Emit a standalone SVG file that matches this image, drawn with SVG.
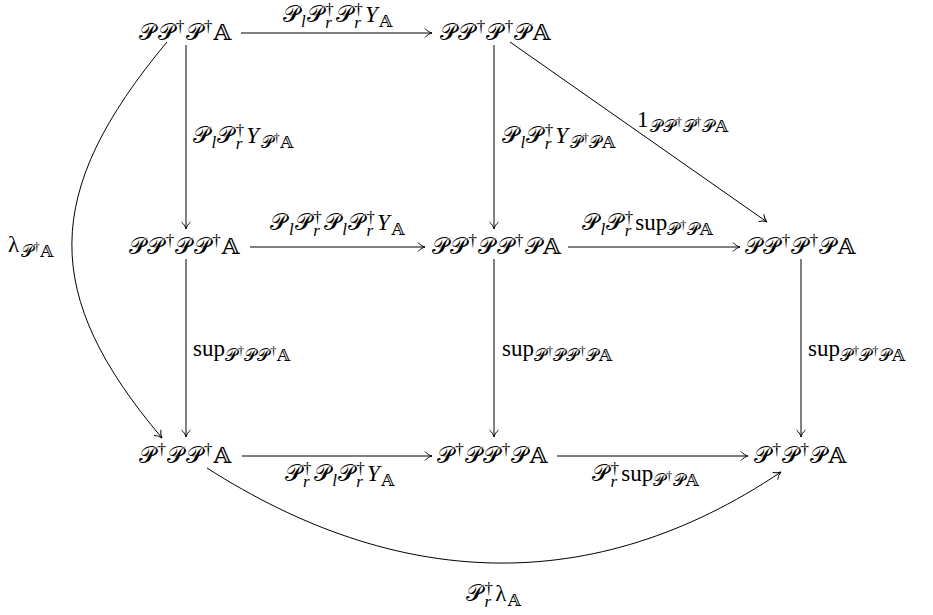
<svg xmlns="http://www.w3.org/2000/svg" width="933" height="615" viewBox="0 0 933 615">
<style>
text { font-family: "Liberation Serif", "DejaVu Serif", "DejaVu Sans", serif; font-size: 23px; fill: #000; letter-spacing: 1.5px; }
.s { font-size: 17px; letter-spacing: 1px; }
.ss { font-size: 12px; letter-spacing: 0.5px; }
.r { letter-spacing: 0; }
.i { font-style: italic; }
.e { fill: none; stroke: #000; stroke-width: 1; marker-end: url(#ah); }
</style>
<defs>
<marker id="ah" markerUnits="userSpaceOnUse" viewBox="-9 -6 10 12" refX="0" refY="0" markerWidth="10" markerHeight="12" orient="auto">
<path d="M-7,-4.5 C-5,-2 -2,-0.5 0,0 C-2,0.5 -5,2 -7,4.5" fill="none" stroke="#000" stroke-width="1"/>
</marker>
</defs>
<rect width="933" height="615" fill="#fff"/>
<g id="edges">
<path class="e" d="M241,33 H432"/>
<path class="e" d="M186,45 V229"/>
<path class="e" d="M494,45 V229"/>
<path class="e" d="M510,42 L767,222"/>
<path class="e" d="M250,247 H425"/>
<path class="e" d="M568,247 H740"/>
<path class="e" d="M186,259 V437"/>
<path class="e" d="M494,259 V437"/>
<path class="e" d="M801,259 V437"/>
<path class="e" d="M242,456 H432"/>
<path class="e" d="M557,456 H748"/>
<path class="e" d="M167,42 C41,193 41,295 162,438"/>
<path class="e" d="M207,468 C396,589 592,599 781,472"/>
</g>
<g id="labels">
<text x="338" y="22" text-anchor="middle">𝒫<tspan class="s i" dy="5">l</tspan><tspan dy="-5">𝒫</tspan><tspan class="s r" dy="-7">†</tspan><tspan class="s i" dx="-8.5" dy="13">r</tspan><tspan dy="-6" dx="3">𝒫</tspan><tspan class="s r" dy="-7">†</tspan><tspan class="s i" dx="-8.5" dy="13">r</tspan><tspan class="i" dy="-6" dx="3">Y</tspan><tspan class="s" dy="5">𝔸</tspan></text>
<text x="193" y="143">𝒫<tspan class="s i" dy="5">l</tspan><tspan dy="-5">𝒫</tspan><tspan class="s r" dy="-7">†</tspan><tspan class="s i" dx="-8.5" dy="13">r</tspan><tspan class="i" dy="-6" dx="3">Y</tspan><tspan class="s" dy="5">𝒫</tspan><tspan class="ss" dy="-6">†</tspan><tspan class="s" dy="6">𝔸</tspan></text>
<text x="502" y="143">𝒫<tspan class="s i" dy="5">l</tspan><tspan dy="-5">𝒫</tspan><tspan class="s r" dy="-7">†</tspan><tspan class="s i" dx="-8.5" dy="13">r</tspan><tspan class="i" dy="-6" dx="3">Y</tspan><tspan class="s" dy="5">𝒫</tspan><tspan class="ss" dy="-6">†</tspan><tspan class="s" dy="6">𝒫𝔸</tspan></text>
<text x="637" y="127">1<tspan class="s" dy="5">𝒫𝒫</tspan><tspan class="ss" dy="-6">†</tspan><tspan class="s" dy="6">𝒫</tspan><tspan class="ss" dy="-6">†</tspan><tspan class="s" dy="6">𝒫𝔸</tspan></text>
<text x="338" y="230" text-anchor="middle">𝒫<tspan class="s i" dy="5">l</tspan><tspan dy="-5">𝒫</tspan><tspan class="s r" dy="-7">†</tspan><tspan class="s i" dx="-8.5" dy="13">r</tspan><tspan dy="-6" dx="3">𝒫</tspan><tspan class="s i" dy="5">l</tspan><tspan dy="-5">𝒫</tspan><tspan class="s r" dy="-7">†</tspan><tspan class="s i" dx="-8.5" dy="13">r</tspan><tspan class="i" dy="-6" dx="3">Y</tspan><tspan class="s" dy="5">𝔸</tspan></text>
<text x="648" y="230" text-anchor="middle">𝒫<tspan class="s i" dy="5">l</tspan><tspan dy="-5">𝒫</tspan><tspan class="s r" dy="-7">†</tspan><tspan class="s i" dx="-8.5" dy="13">r</tspan><tspan dy="-6" dx="3" class="r">sup</tspan><tspan class="s" dy="5">𝒫</tspan><tspan class="ss" dy="-6">†</tspan><tspan class="s" dy="6">𝒫𝔸</tspan></text>
<text x="193" y="356"><tspan class="r">sup</tspan><tspan class="s" dy="5">𝒫</tspan><tspan class="ss" dy="-6">†</tspan><tspan class="s" dy="6">𝒫𝒫</tspan><tspan class="ss" dy="-6">†</tspan><tspan class="s" dy="6">𝔸</tspan></text>
<text x="502" y="356"><tspan class="r">sup</tspan><tspan class="s" dy="5">𝒫</tspan><tspan class="ss" dy="-6">†</tspan><tspan class="s" dy="6">𝒫𝒫</tspan><tspan class="ss" dy="-6">†</tspan><tspan class="s" dy="6">𝒫𝔸</tspan></text>
<text x="808" y="356"><tspan class="r">sup</tspan><tspan class="s" dy="5">𝒫</tspan><tspan class="ss" dy="-6">†</tspan><tspan class="s" dy="6">𝒫</tspan><tspan class="ss" dy="-6">†</tspan><tspan class="s" dy="6">𝒫𝔸</tspan></text>
<text x="340" y="481" text-anchor="middle">𝒫<tspan class="s r" dy="-7">†</tspan><tspan class="s i" dx="-8.5" dy="13">r</tspan><tspan dy="-6" dx="3">𝒫</tspan><tspan class="s i" dy="5">l</tspan><tspan dy="-5">𝒫</tspan><tspan class="s r" dy="-7">†</tspan><tspan class="s i" dx="-8.5" dy="13">r</tspan><tspan class="i" dy="-6" dx="3">Y</tspan><tspan class="s" dy="5">𝔸</tspan></text>
<text x="646" y="481" text-anchor="middle">𝒫<tspan class="s r" dy="-7">†</tspan><tspan class="s i" dx="-8.5" dy="13">r</tspan><tspan dy="-6" dx="3" class="r">sup</tspan><tspan class="s" dy="5">𝒫</tspan><tspan class="ss" dy="-6">†</tspan><tspan class="s" dy="6">𝒫𝔸</tspan></text>
<text x="8" y="252">λ<tspan class="s" dy="5">𝒫</tspan><tspan class="ss" dy="-6">†</tspan><tspan class="s" dy="6">𝔸</tspan></text>
<text x="494" y="601" text-anchor="middle">𝒫<tspan class="s r" dy="-7">†</tspan><tspan class="s i" dx="-8.5" dy="13">r</tspan><tspan dy="-6" dx="3">λ</tspan><tspan class="s" dy="5">𝔸</tspan></text>
</g>
<g id="n1"><text x="186" y="40" text-anchor="middle">𝒫𝒫<tspan class="s" dy="-8">†</tspan><tspan dy="8">𝒫</tspan><tspan class="s" dy="-8">†</tspan><tspan dy="8">𝔸</tspan></text></g>
<g id="n2"><text x="496" y="40" text-anchor="middle">𝒫𝒫<tspan class="s" dy="-8">†</tspan><tspan dy="8">𝒫</tspan><tspan class="s" dy="-8">†</tspan><tspan dy="8">𝒫𝔸</tspan></text></g>
<g id="n3"><text x="185" y="254" text-anchor="middle">𝒫𝒫<tspan class="s" dy="-8">†</tspan><tspan dy="8">𝒫𝒫</tspan><tspan class="s" dy="-8">†</tspan><tspan dy="8">𝔸</tspan></text></g>
<g id="n4"><text x="497" y="254" text-anchor="middle">𝒫𝒫<tspan class="s" dy="-8">†</tspan><tspan dy="8">𝒫𝒫</tspan><tspan class="s" dy="-8">†</tspan><tspan dy="8">𝒫𝔸</tspan></text></g>
<g id="n5"><text x="801" y="254" text-anchor="middle">𝒫𝒫<tspan class="s" dy="-8">†</tspan><tspan dy="8">𝒫</tspan><tspan class="s" dy="-8">†</tspan><tspan dy="8">𝒫𝔸</tspan></text></g>
<g id="n6"><text x="186" y="463" text-anchor="middle">𝒫<tspan class="s" dy="-8">†</tspan><tspan dy="8">𝒫𝒫</tspan><tspan class="s" dy="-8">†</tspan><tspan dy="8">𝔸</tspan></text></g>
<g id="n7"><text x="493" y="463" text-anchor="middle">𝒫<tspan class="s" dy="-8">†</tspan><tspan dy="8">𝒫𝒫</tspan><tspan class="s" dy="-8">†</tspan><tspan dy="8">𝒫𝔸</tspan></text></g>
<g id="n8"><text x="801" y="463" text-anchor="middle">𝒫<tspan class="s" dy="-8">†</tspan><tspan dy="8">𝒫</tspan><tspan class="s" dy="-8">†</tspan><tspan dy="8">𝒫𝔸</tspan></text></g>
</svg>
